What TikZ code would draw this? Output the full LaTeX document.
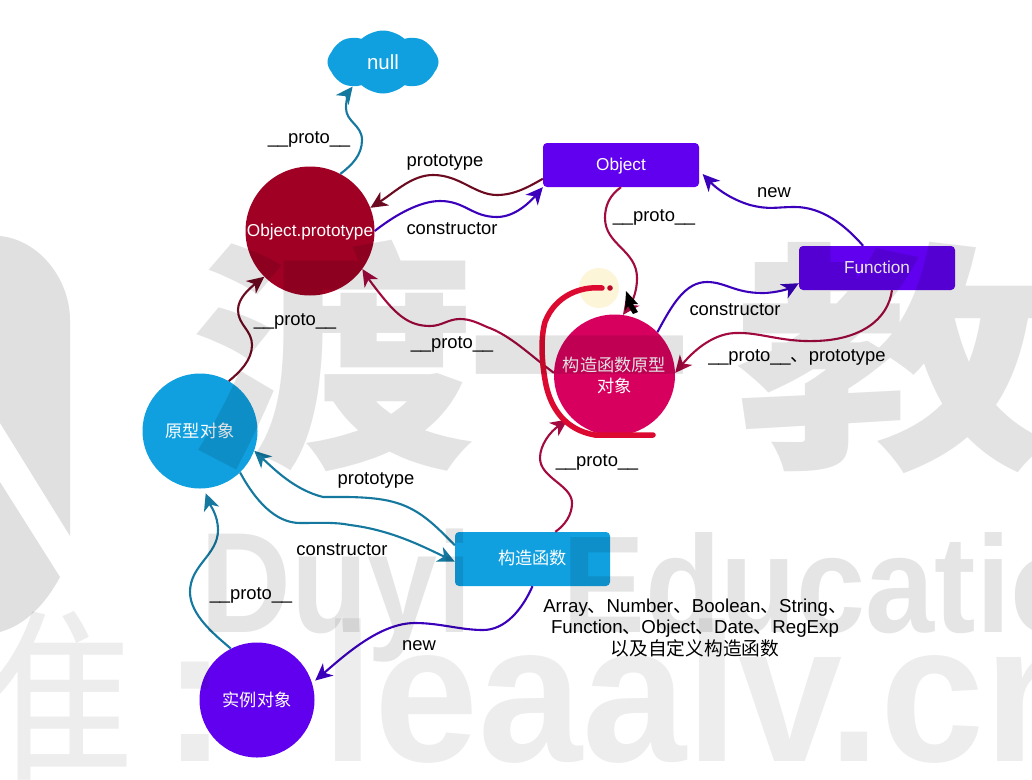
\documentclass[tikz,border=0pt]{standalone}
\usepackage{graphicx}
\usepackage{fontspec}
\setmainfont{Liberation Sans}
\newfontfamily\cjk{Noto Sans CJK SC}
\usetikzlibrary{arrows.meta,shapes.symbols}
\definecolor{skyfill}{HTML}{10A0E0}
\definecolor{skyline}{HTML}{14789F}
\definecolor{violetfill}{HTML}{6000EE}
\definecolor{violetline}{HTML}{3A00BC}
\definecolor{darkredfill}{HTML}{A00024}
\definecolor{darkredline}{HTML}{6C0A20}
\definecolor{rosefill}{HTML}{D8005E}
\definecolor{roseline}{HTML}{A30A40}
\definecolor{markred}{HTML}{DC0A30}
\definecolor{markglow}{HTML}{FCF5D8}
\newcommand{\dun}{{\cjk 、}}
\newcommand{\under}{\_\kern-0.4pt\_}
\tikzset{
  roundnode/.style={circle, inner sep=0pt, text=white, align=center,
    font=\fontsize{17.2}{21}\selectfont},
  boxnode/.style={rectangle, rounded corners=4pt, inner sep=0pt, text=white, align=center,
    minimum width=156pt, text height=13pt, text depth=2pt, font=\fontsize{17.2}{21}\selectfont},
  linklabel/.style={inner sep=0pt, align=center, text=black, text height=13pt, text depth=4pt,
    font=\fontsize{18.4}{21}\selectfont},
  linkarrow/.style={line width=2.1pt, -{Stealth[length=17pt,width=16pt,inset=5pt]}},
  marktext/.style={inner sep=0pt, anchor=base west, text=black, text opacity=#1},
}
\begin{document}
\begin{tikzpicture}[x=1pt,y=-1pt]
  \useasboundingbox (0,0) rectangle (1032,779);
  \clip (0,0) rectangle (1032,779);
  \fill[white] (0,0) rectangle (1032,779);

  % Cloud at the top of the chain
  \node[
    cloud,
    cloud puffs=8,
    cloud puff arc=85,
    aspect=1.8,
    fill=skyfill,
    minimum width=111pt,
    minimum height=63pt,
    inner sep=0pt,
    text=white,
    font=\fontsize{20.5}{21}\selectfont
  ] (nullcloud) at (383,62) {null};

  % Circles
  \node[roundnode, fill=darkredfill, minimum size=129pt, text height=13pt, text depth=2pt] (objproto) at (310,231) {Object.prototype};
  \node[roundnode, fill=rosefill, minimum size=121pt] (funcproto) at (614.5,375) {{\cjk 构造函数原型}\\{\cjk 对象}};
  \node[roundnode, fill=skyfill, minimum size=115pt] (protoobj) at (200,431) {\cjk 原型对象};
  \node[roundnode, fill=violetfill, minimum size=115pt] (instance) at (257,700) {\cjk 实例对象};

  % Boxes
  \node[boxnode, fill=violetfill, minimum height=44pt] (objectbox) at (621,165) {Object};
  \node[boxnode, fill=violetfill, minimum height=44pt] (functionbox) at (877,268) {Function};
  \node[boxnode, fill=skyfill, minimum width=155pt, minimum height=54pt] (ctorbox) at (532.5,559) {\cjk 构造函数};

  % Highlight left by the pen, under the arrows
  \node[circle, fill=markglow, minimum size=40pt, inner sep=0pt] (glow) at (599,288) {};

  % Links around Object.prototype
  \draw[linkarrow, skyline] (objproto.62) .. controls (352,165) and (362,155) .. (362,140)
    .. controls (362,125) and (346,122) .. (346,108)
    .. controls (346,98) and (350,90) .. (nullcloud.219);
  \draw[linkarrow, darkredline] (objectbox.190) .. controls (530,186) and (515,195) .. (497,195)
    .. controls (475,195) and (460,175) .. (433,175)
    .. controls (412,175) and (395,192) .. (objproto.21);
  \draw[linkarrow, violetline] (objproto.0) .. controls (395,215) and (420,201) .. (440,201)
    .. controls (465,201) and (472,217) .. (497,217)
    .. controls (515,217) and (530,202) .. (objectbox.south west);
  \draw[linkarrow, roseline] (funcproto.178) .. controls (530,355) and (510,335) .. (487,327)
    .. controls (478,323) and (470,319) .. (460,319)
    .. controls (448,319) and (442,326) .. (430,326)
    .. controls (412,326) and (400,318) .. (385,300)
    .. controls (375,288) and (368,278) .. (objproto.-36);
  \draw[linkarrow, darkredline] (protoobj.60) .. controls (240,372) and (252,360) .. (252,345)
    .. controls (252,330) and (238,325) .. (238,310)
    .. controls (238,298) and (250,288) .. (objproto.225);

  % Links around the function prototype
  \draw[linkarrow, roseline] (objectbox.south) .. controls (610,195) and (605,205) .. (605,218)
    .. controls (605,245) and (637,250) .. (637,278)
    .. controls (637,295) and (630,305) .. (funcproto.82);
  \draw[linkarrow, violetline, shorten >=5pt] (functionbox.122) .. controls (845,225) and (822,207) .. (795,207)
    .. controls (775,207) and (770,210) .. (750,205)
    .. controls (730,199) and (716,188) .. (objectbox.-4);
  \draw[linkarrow, violetline] (funcproto.45) .. controls (672,305) and (685,282) .. (707,282)
    .. controls (725,282) and (735,293) .. (762,293)
    .. controls (778,293) and (790,288) .. (functionbox.191);
  \draw[linkarrow, roseline] (functionbox.-56) .. controls (888,320) and (860,340) .. (815,341)
    .. controls (780,342) and (760,332) .. (735,333)
    .. controls (710,334) and (690,355) .. (funcproto.2);
  \draw[linkarrow, roseline, shorten >=4pt] (ctorbox.50) .. controls (565,525) and (572,515) .. (572,503)
    .. controls (572,485) and (540,478) .. (540,458)
    .. controls (540,445) and (550,432) .. (funcproto.224);

  % Links around the prototype object
  \draw[linkarrow, skyline] (ctorbox.170) .. controls (435,525) and (420,510) .. (397,503)
    .. controls (375,496) and (345,497) .. (323,497)
    .. controls (295,490) and (275,470) .. (protoobj.-20);
  \draw[linkarrow, skyline] (protoobj.-46) .. controls (255,500) and (275,523) .. (300,523)
    .. controls (320,523) and (335,522) .. (350,525)
    .. controls (390,530) and (420,545) .. (ctorbox.182);
  \draw[linkarrow, skyline, shorten >=5pt] (instance.117) .. controls (215,635) and (190,615) .. (190,592)
    .. controls (190,565) and (218,555) .. (218,530)
    .. controls (218,515) and (210,505) .. (protoobj.-86);
  \draw[linkarrow, violetline, shorten >=4pt] (ctorbox.south) .. controls (522,610) and (505,630) .. (483,630)
    .. controls (460,630) and (440,623) .. (415,623)
    .. controls (380,623) and (345,655) .. (instance.17);

  % Labels on the links
  \node[linklabel] (protolabela) at (309,138.5) {\under proto\under};
  \node[linklabel] (prototypelabela) at (445,162) {prototype};
  \node[linklabel] (ctorlabela) at (452,230) {constructor};
  \node[linklabel] (protolabelb) at (654,217) {\under proto\under};
  \node[linklabel] (newlabela) at (774,193) {new};
  \node[linklabel] (ctorlabelb) at (735,310.5) {constructor};
  \node[linklabel] (bothlabel) at (797,357) {\under proto\under\dun prototype};
  \node[linklabel] (protolabelc) at (452,344) {\under proto\under};
  \node[linklabel] (protolabeld) at (295,320.5) {\under proto\under};
  \node[linklabel] (prototypelabelb) at (376,479.5) {prototype};
  \node[linklabel] (ctorlabelc) at (342,551) {constructor};
  \node[linklabel] (protolabele) at (251,594.5) {\under proto\under};
  \node[linklabel] (newlabelb) at (419,645.5) {new};
  \node[linklabel] (protolabelf) at (597,462) {\under proto\under};
  \node[
    inner sep=0pt,
    align=center,
    font=\fontsize{18.7}{21.5}\selectfont
  ] (ctornames) at (695,628) {%
Array\dun Number\dun Boolean\dun String\dun\\
Function\dun Object\dun Date\dun RegExp\\
{\cjk 以及自定义构造函数}
  };

  % Pen stroke round the function prototype
  \draw[markred, line width=5.5pt, line cap=round]
    (602,288) .. controls (580,286) and (555,296) .. (545,322)
    .. controls (540,340) and (542,365) .. (546,385)
    .. controls (551,408) and (565,430) .. (595,435) -- (653,435);
  \fill[markred!85!black] (610,288) circle (2.8);

  % Mouse pointer
  \fill[black] (626,291) -- (638,304) -- (633,304) -- (638,312) -- (633,314) -- (628,306) -- (625,311) -- cycle;

  % Watermark over everything
  \fill[black, fill opacity=.12] (0,236) .. controls (40,240) and (70,280) .. (70,320) -- (70,536) -- (0,423) -- cycle;
  \fill[black, fill opacity=.12] (0,482) -- (60,577) .. controls (45,605) and (25,625) .. (0,632) -- cycle;
  \node[marktext=.11, font=\cjk\bfseries\fontsize{285}{285}\selectfont] (markdu) at (190,449) {\scalebox{1}[.85]{渡}};
  \node[marktext=.11, font=\cjk\bfseries\fontsize{285}{285}\selectfont] (markyi) at (468,449) {\scalebox{.78}[.85]{一}};
  \node[marktext=.11, font=\cjk\bfseries\fontsize{285}{285}\selectfont] (markjiao) at (735,449) {\scalebox{1.12}[.85]{教}};
  \node[marktext=.1, font=\bfseries\fontsize{143}{143}\selectfont] (markduyi) at (200,632) {\scalebox{.88}[1]{Duyi}};
  \node[marktext=.1, font=\bfseries\fontsize{138}{138}\selectfont] (markedu) at (562,632) {\scalebox{.9}[1]{Education}};
  \node[marktext=.07, font=\cjk\fontsize{185}{185}\selectfont] (markzhun) at (-50,765) {准};
  \node[marktext=.07, font=\bfseries\fontsize{197}{197}\selectfont] (markcolon) at (162,761) {:};
  \node[marktext=.07, font=\bfseries\fontsize{197}{197}\selectfont] (marksite) at (322,761) {\scalebox{.95}[1]{leaalv.cn}};
\end{tikzpicture}
\end{document}
